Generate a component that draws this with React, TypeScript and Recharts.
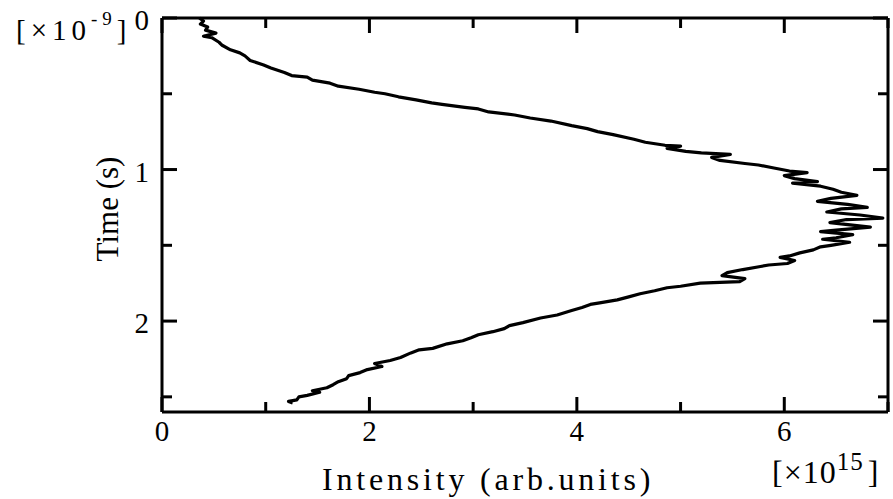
import React from 'react';
import { ScatterChart, Scatter, XAxis, YAxis } from 'recharts';

// pulse intensity (x10^15), top to bottom
const intensity = [
  0.36, 0.4, 0.37, 0.44, 0.42, 0.52, 0.4, 0.48, 0.55, 0.58, 0.66, 0.75, 0.8, 0.85, 0.98, 1.05,
  1.18, 1.25, 1.4, 1.45, 1.62, 1.7, 1.9, 2.05, 2.15, 2.28, 2.45, 2.6, 2.7, 2.92, 3.05, 3.15,
  3.4, 3.55, 3.75, 3.95, 4.1, 4.2, 4.35, 4.55, 4.66, 4.85, 5.0, 4.87, 5.05, 5.2, 5.48, 5.3,
  5.38, 5.62, 5.75, 5.9, 6.05, 6.22, 6.0, 6.1, 6.32, 6.08, 6.35, 6.47, 6.55, 6.7, 6.45, 6.32,
  6.61, 6.8, 6.55, 6.41, 6.73, 6.95, 6.6, 6.44, 6.7, 6.83, 6.5, 6.35, 6.66, 6.5, 6.37, 6.63,
  6.45, 6.35, 6.28, 6.15, 6.05, 5.96, 6.1, 6.03, 5.85, 5.77, 5.6, 5.45, 5.4, 5.62, 5.57, 5.19,
  5.0, 4.87, 4.75, 4.61, 4.5, 4.39, 4.22, 4.13, 4.05, 3.95, 3.81, 3.65, 3.48, 3.35, 3.3, 3.19,
  3.05, 2.98, 2.9, 2.75, 2.61, 2.48, 2.4, 2.3, 2.2, 2.05, 2.12, 1.98, 1.91, 1.8, 1.78, 1.7,
  1.65, 1.59, 1.45, 1.52, 1.4, 1.32, 1.3, 1.22, 1.26,
];

// time (x10^-9 s) for each point above
const time = [
  0.0, 0.02, 0.04, 0.06, 0.08, 0.1, 0.12, 0.13, 0.16, 0.18, 0.21, 0.23, 0.25, 0.28, 0.31, 0.33,
  0.36, 0.38, 0.39, 0.41, 0.43, 0.45, 0.47, 0.49, 0.5, 0.52, 0.54, 0.56, 0.57, 0.59, 0.6, 0.62,
  0.64, 0.66, 0.68, 0.71, 0.73, 0.75, 0.77, 0.8, 0.82, 0.84, 0.845, 0.86, 0.88, 0.89, 0.9, 0.92,
  0.94, 0.96, 0.97, 0.99, 1.01, 1.02, 1.04, 1.06, 1.08, 1.09, 1.11, 1.13, 1.15, 1.17, 1.19, 1.21,
  1.23, 1.25, 1.26, 1.28, 1.3, 1.32, 1.33, 1.35, 1.37, 1.38, 1.4, 1.41, 1.43, 1.45, 1.46, 1.48,
  1.5, 1.51, 1.53, 1.55, 1.57, 1.58, 1.6, 1.62, 1.63, 1.64, 1.66, 1.68, 1.7, 1.72, 1.74, 1.75,
  1.77, 1.78, 1.8, 1.82, 1.84, 1.86, 1.88, 1.89, 1.91, 1.93, 1.96, 1.98, 2.01, 2.03, 2.05, 2.07,
  2.09, 2.11, 2.13, 2.15, 2.18, 2.19, 2.21, 2.24, 2.26, 2.28, 2.3, 2.32, 2.34, 2.36, 2.38, 2.4,
  2.42, 2.44, 2.46, 2.47, 2.49, 2.5, 2.52, 2.53, 2.54,
];

const xTicks = [0, 1, 2, 3, 4, 5, 6, 7];
const xLabels = [0, 2, 4, 6];
const yTicks = [0, 0.5, 1, 1.5, 2, 2.5];
const yLabels = [0, 1, 2];

const data = time.map((t, k) => ({ i: intensity[k], t }));

const FONT = '"Liberation Serif", "Times New Roman", serif';

const BottomTick = (props: any) => {
  const { x, y, payload } = props;
  const major = xLabels.includes(payload.value);
  return (
    <g>
      <line x1={x} x2={x} y1={y} y2={y - (major ? 15 : 10)} stroke="#000" strokeWidth={3} />
      {major && (
        <text x={x} y={y + 29} textAnchor="middle" fontFamily={FONT} fontSize={29} fill="#000">
          {payload.value}
        </text>
      )}
    </g>
  );
};

const TopTick = (props: any) => {
  const { x, y, payload } = props;
  const major = xLabels.includes(payload.value);
  return <line x1={x} x2={x} y1={y} y2={y + (major ? 15 : 10)} stroke="#000" strokeWidth={3} />;
};

const LeftTick = (props: any) => {
  const { x, y, payload } = props;
  const major = yLabels.includes(payload.value);
  return (
    <g>
      <line x1={x} x2={x + (major ? 15 : 10)} y1={y} y2={y} stroke="#000" strokeWidth={3} />
      {major && (
        <text x={x - 13} y={y + 12} textAnchor="end" fontFamily={FONT} fontSize={29} fill="#000">
          {payload.value}
        </text>
      )}
    </g>
  );
};

const RightTick = (props: any) => {
  const { x, y, payload } = props;
  const major = yLabels.includes(payload.value);
  return <line x1={x} x2={x - (major ? 15 : 10)} y1={y} y2={y} stroke="#000" strokeWidth={3} />;
};

const noDot = () => <g />;

const App: React.FC = () => {
  const axisLine = { stroke: '#000', strokeWidth: 3 };
  return (
    <div style={{ position: 'absolute', left: 0, top: 0, width: 893, height: 499, background: '#fff' }}>
      <ScatterChart width={893} height={499} margin={{ top: 16, right: 3, bottom: 47, left: 102 }}>
        <XAxis
          xAxisId="b"
          type="number"
          dataKey="i"
          domain={[0, 7]}
          ticks={xTicks}
          interval={0}
          height={40}
          tickSize={0}
          tickMargin={0}
          axisLine={axisLine}
          tickLine={false}
          tick={<BottomTick />}
        />
        <XAxis
          xAxisId="t"
          orientation="top"
          type="number"
          dataKey="i"
          domain={[0, 7]}
          ticks={xTicks}
          interval={0}
          height={2}
          tickSize={0}
          tickMargin={0}
          axisLine={axisLine}
          tickLine={false}
          tick={<TopTick />}
        />
        <YAxis
          yAxisId="l"
          type="number"
          dataKey="t"
          domain={[0, 2.6]}
          reversed
          ticks={yTicks}
          interval={0}
          width={60}
          tickSize={0}
          tickMargin={0}
          axisLine={axisLine}
          tickLine={false}
          tick={<LeftTick />}
        />
        <YAxis
          yAxisId="r"
          orientation="right"
          type="number"
          dataKey="t"
          domain={[0, 2.6]}
          reversed
          ticks={yTicks}
          interval={0}
          width={2}
          tickSize={0}
          tickMargin={0}
          axisLine={axisLine}
          tickLine={false}
          tick={<RightTick />}
        />
        <Scatter
          xAxisId="t"
          yAxisId="r"
          data={data}
          shape={noDot}
          isAnimationActive={false}
        />
        <Scatter
          xAxisId="b"
          yAxisId="l"
          data={data}
          shape={noDot}
          line={{ stroke: '#000', strokeWidth: 3.2, strokeLinejoin: 'round' }}
          lineType="joint"
          isAnimationActive={false}
        />
      </ScatterChart>
      <svg
        width={893}
        height={499}
        style={{ position: 'absolute', left: 0, top: 0, pointerEvents: 'none' }}
        fontFamily={FONT}
        fill="#000"
      >
        <text x={16} y={40} fontSize={29} letterSpacing={5}>
          [×10
          <tspan fontSize={19} dy={-15}>-9</tspan>
          <tspan dy={15}>]</tspan>
        </text>
        <text x={118} y={209} fontSize={31} textAnchor="middle" transform="rotate(-90 118 209)">
          Time (s)
        </text>
        <text x={322} y={490} fontSize={32} letterSpacing={3.8}>
          Intensity (arb.units)
        </text>
        <text x={772} y={483} fontSize={32} letterSpacing={1}>
          [×10
          <tspan fontSize={25} dy={-13}>15</tspan>
          <tspan dx={4} dy={13}>]</tspan>
        </text>
      </svg>
    </div>
  );
};

export default App;
